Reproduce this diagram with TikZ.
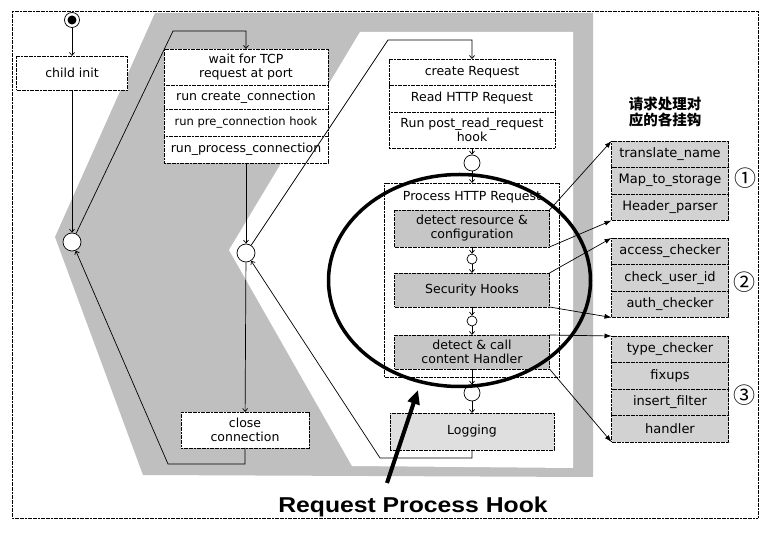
\documentclass[tikz,border=0pt]{standalone}
\usepackage{fontspec}
\setmainfont{DejaVu Sans}
\newfontfamily\cjk{Noto Sans CJK SC}
\newfontfamily\titlefont[FakeStretch=1.15]{Liberation Sans}
\usetikzlibrary{arrows.meta,positioning}

\begin{document}
\begin{tikzpicture}[x=1pt, y=-1pt,
    every node/.style={font=\fontsize{12.5}{14}\selectfont},
    box/.style={draw, fill=white, line width=0.7pt, dash pattern=on 2pt off 0.6pt,
      inner sep=1pt, outer sep=0pt, align=center},
    hook/.style={box, fill=gray!35, minimum width=117, minimum height=26.5,
      font=\fontsize{13}{15}\selectfont},
    stage/.style={box, fill=gray!45, minimum width=155},
    junc/.style={circle, draw, fill=white, line width=0.7pt, inner sep=0pt, minimum size=18},
    dot/.style={junc, minimum size=10},
    flow/.style={line width=0.7pt, -{Straight Barb[length=3pt,width=5pt]}},
    tohook/.style={line width=0.7pt, -{Latex[length=7pt,width=5pt]}}]
  \useasboundingbox (0,0) rectangle (774,534);

  % shaded bands behind the flow
  \fill[gray!50] (155,13) -- (593,13) -- (593,477) -- (143,475) -- (55,237) -- cycle;
  \fill[white] (360,32) -- (573,32) -- (573,468) -- (352,466) -- (229,250) -- cycle;
  \draw[line width=0.6pt, dash pattern=on 2pt off 0.6pt] (12,11) rectangle (758,518);

  % child / connection loop
  \node[circle, draw, fill=white, line width=0.7pt, minimum size=15, inner sep=0pt] (start) at (72,20) {};
  \fill (start) circle (4.5);
  \node[box, minimum width=111, minimum height=34] (init) at (72,73) {child init};
  \node[junc] (jl) at (72,242) {};

  \node[box, minimum width=164, minimum height=36] (w1) at (246,67) {wait for TCP\\request at port};
  \node[box, minimum width=164, minimum height=24, below=0pt of w1] (w2) {run create\_connection};
  \node[box, minimum width=164, minimum height=27, below=0pt of w2,
    font=\fontsize{11.5}{14}\selectfont] (w3) {run pre\_connection hook};
  \node[box, minimum width=164, minimum height=27, below=0pt of w3] (w4) {run\_process\_connection};
  \node[junc] (jm) at (246,253) {};
  \node[box, minimum width=128, minimum height=36] (close) at (245,430) {close\\connection};

  % request loop
  \node[box, minimum width=166, minimum height=26] (c1) at (472,72) {create Request};
  \node[box, minimum width=166, minimum height=27, below=0pt of c1] (c2) {Read HTTP Request};
  \node[box, minimum width=166, minimum height=36, below=0pt of c2] (c3) {Run post\_read\_request\\hook};
  \node[junc, minimum size=16] (jr) at (472,163) {};
  \node[box, minimum width=175, minimum height=194,
    label={[anchor=north, yshift=-5pt]north:Process HTTP Request}] (proc) at (472,280) {};
  \node[stage, minimum height=37] (dres) at (472,228.5) {detect resource \&\\configuration};
  \node[dot] (js1) at (472,259) {};
  \node[stage, minimum height=34] (sec) at (472,290) {Security Hooks};
  \node[dot] (js2) at (472,321) {};
  \node[stage, minimum height=34] (dcall) at (472,352) {detect \& call\\content Handler};
  \node[junc, minimum size=16] (jlog) at (472,393) {};
  \node[box, fill=gray!25, minimum width=164, minimum height=37] (log) at (472,431.5) {Logging};

  % hook groups
  \node[font=\cjk\bfseries\fontsize{14.5}{16}\selectfont, align=center] (head) at (665,112) {请求处理对\\应的各挂钩};
  \foreach \t [count=\i] in {translate\_name, Map\_to\_storage, Header\_parser}
    \node[hook] (ga\i) at (670,127.75+26.5*\i) {\t};
  \foreach \t [count=\i] in {access\_checker, check\_user\_id, auth\_checker}
    \node[hook] (gb\i) at (670,224.75+26.5*\i) {\t};
  \foreach \t [count=\i] in {type\_checker, fixups, insert\_filter, handler}
    \node[hook] (gc\i) at (670,322.75+26.5*\i) {\t};
  \node[font=\cjk\fontsize{22}{22}\selectfont] (n1) at (745,178) {①};
  \node[font=\cjk\fontsize{22}{22}\selectfont] (n2) at (744,282) {②};
  \node[font=\cjk\fontsize{22}{22}\selectfont] (n3) at (744,395) {③};

  \draw[tohook] (dres.north east) -- (ga1.north west);
  \draw[tohook] (dres.south east) -- (ga3.south west);
  \draw[tohook] (sec.north east) -- (gb1.north west);
  \draw[tohook] (sec.south east) -- (gb3.south west);
  \draw[tohook] (dcall.north east) -- (gc1.north west);
  \draw[tohook] (dcall.south east) -- (gc4.south west);

  % flow connectors
  \coordinate (lt) at (173,31);
  \coordinate (lb) at (168,464);
  \coordinate (mt) at (388,40);
  \coordinate (rb) at (380,458);
  \draw[flow] (start) -- (init);
  \draw[flow] (init) -- (jl);
  \draw[flow] (jl) -- (lt) -| (w1.north);
  \draw[flow] (w4) -- (jm);
  \draw[flow] (jm) -- (close);
  \draw[flow] (close.south) |- (lb) -- (jl);
  \draw[flow] (jm) -- (mt) -| (c1.north);
  \draw[flow] (c3) -- (jr);
  \draw[flow] (jr) -- (proc.north);
  \draw[flow] (dres) -- (js1);
  \draw[flow] (js1) -- (sec);
  \draw[flow] (sec) -- (js2);
  \draw[flow] (js2) -- (dcall);
  \draw[flow] (dcall) -- (jlog);
  \draw[flow] (jlog) -- (log);
  \draw[flow] (log.south) |- (rb) -- (jm);

  % highlight
  \draw[line width=3.5pt] (459.5,280.5) ellipse [x radius=131, y radius=106];
  \coordinate (ptail) at (387,483);
  \coordinate (ptip) at (418,390);
  \draw[line width=4pt, -{Triangle[length=14pt,width=12pt]}] (ptail) -- (ptip);
  \node[font=\titlefont\bfseries\fontsize{21.5}{24}\selectfont] (title) at (413,507) {Request Process Hook};
\end{tikzpicture}
\end{document}
